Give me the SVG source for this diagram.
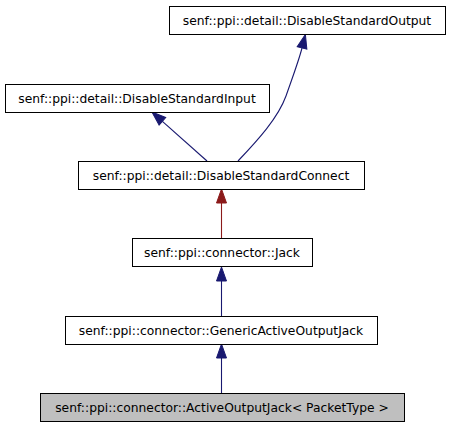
<svg xmlns="http://www.w3.org/2000/svg" width="449" height="427" viewBox="0 0 449 427">
<defs>
<style>
.box{fill:#ffffff;stroke:#000000;stroke-width:1}
.cur{fill:#bfbfbf;stroke:#000000;stroke-width:1}
.lbl{font-family:"DejaVu Sans","Liberation Sans",sans-serif;font-size:12.3px;text-anchor:middle;fill:#000000}
.e-blue{fill:none;stroke:#191970;stroke-width:1.1}
.e-red{fill:none;stroke:#8b1a1a;stroke-width:1.1}
</style>
<marker id="ab" markerUnits="userSpaceOnUse" markerWidth="15" markerHeight="11" refX="0" refY="5" orient="auto" viewBox="0 0 15 10" overflow="visible">
<path d="M0,0 L14,5 L0,10 z" fill="#191970" stroke="#191970" stroke-width="1"/>
</marker>
<marker id="ar" markerUnits="userSpaceOnUse" markerWidth="15" markerHeight="11" refX="0" refY="5" orient="auto" viewBox="0 0 15 10" overflow="visible">
<path d="M0,0 L14,5 L0,10 z" fill="#8b1a1a" stroke="#8b1a1a" stroke-width="1"/>
</marker>
</defs>
<rect width="449" height="427" fill="#ffffff"/>
<g id="connectors">
<path class="e-red" d="M221.5,238 L221.5,203" marker-end="url(#ar)"/>
<path class="e-blue" d="M221.5,316 L221.5,281" marker-end="url(#ab)"/>
<path class="e-blue" d="M221.5,393 L221.5,358" marker-end="url(#ab)"/>
<path class="e-blue" d="M207,161 L162.4,121.3" marker-end="url(#ab)"/>
<path class="e-blue" d="M238,161 C258,140 278,118 286,96 C293,76 299,60 302,48" marker-end="url(#ab)"/>
</g>
<g id="node-DisableStandardOutput">
<rect class="box" x="169.5" y="6.5" width="276" height="28"/>
<text class="lbl" x="307" y="24.5">senf::ppi::detail::DisableStandardOutput</text>
</g>
<g id="node-DisableStandardInput">
<rect class="box" x="5.5" y="84.5" width="264" height="28"/>
<text class="lbl" x="137" y="102.5">senf::ppi::detail::DisableStandardInput</text>
</g>
<g id="node-DisableStandardConnect">
<rect class="box" x="78.5" y="161.5" width="286" height="28"/>
<text class="lbl" x="221" y="179.5">senf::ppi::detail::DisableStandardConnect</text>
</g>
<g id="node-Jack">
<rect class="box" x="132.5" y="238.5" width="180" height="28"/>
<text class="lbl" x="222" y="256.5">senf::ppi::connector::Jack</text>
</g>
<g id="node-GenericActiveOutputJack">
<rect class="box" x="65.5" y="316.5" width="312" height="28"/>
<text class="lbl" x="221" y="334.5">senf::ppi::connector::GenericActiveOutputJack</text>
</g>
<g id="node-ActiveOutputJack">
<rect class="cur" x="40.5" y="393.5" width="364" height="28"/>
<text class="lbl" x="222" y="411.5">senf::ppi::connector::ActiveOutputJack&lt; PacketType &gt;</text>
</g>
</svg>
